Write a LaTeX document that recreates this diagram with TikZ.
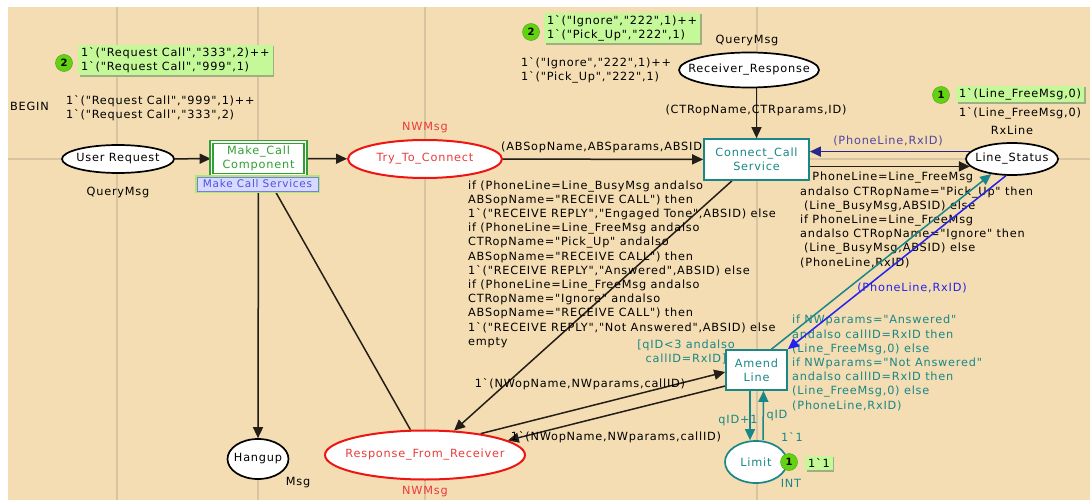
\documentclass[tikz,border=0pt]{standalone}
\usepackage{fontspec}
\setmonofont{DejaVu Sans}[LetterSpace=7]
\usetikzlibrary{arrows.meta,shapes.geometric,shadows}
\pgfdeclarelayer{bglayer}
\pgfdeclarelayer{edgelayer}
\pgfsetlayers{bglayer,edgelayer,main}
\newcommand\zw[1]{\makebox[0pt]{#1}}
\definecolor{bgc}{RGB}{244,221,178}
\definecolor{gridc}{RGB}{216,196,160}
\definecolor{arcc}{RGB}{36,30,24}
\definecolor{cteal}{RGB}{25,135,135}
\definecolor{cred}{RGB}{238,20,20}
\definecolor{credt}{RGB}{232,60,60}
\definecolor{cgreen}{RGB}{50,160,50}
\definecolor{cnavy}{RGB}{40,40,140}
\definecolor{cnavyt}{RGB}{80,70,165}
\definecolor{cblue}{RGB}{35,35,235}
\definecolor{tokfill}{RGB}{196,248,152}
\definecolor{tokshadow}{RGB}{160,175,130}
\definecolor{tokc}{RGB}{100,210,20}
\definecolor{tokcd}{RGB}{80,170,20}
\definecolor{svcfill}{RGB}{214,218,255}
\definecolor{svcdraw}{RGB}{120,125,230}
\definecolor{svctext}{RGB}{80,80,225}
\definecolor{glowc}{RGB}{175,232,110}
\begin{document}
\begin{tikzpicture}[x=1pt,y=-1pt,
  every node/.style={font=\ttfamily\fontsize{11.3}{14.2}\selectfont, inner sep=0pt},
  place/.style={ellipse, draw=black, line width=1.7pt, fill=white},
  rplace/.style={place, draw=cred, text=credt, line width=2pt},
  tplace/.style={place, draw=cteal, text=cteal},
  trans/.style={rectangle, draw=cteal, line width=1.7pt, fill=white, text=cteal, align=center},
  lbl/.style={align=left},
  arc/.style={draw=arcc, line width=1.5pt, -{Triangle[length=11pt,width=10pt]}},
  tokcirc/.style={circle, fill=tokc, draw=tokcd, line width=0.5pt, minimum size=17pt, font=\ttfamily\bfseries\fontsize{10}{12}\selectfont},
  tokbox/.style={fill=tokfill, inner xsep=3pt, inner ysep=2.5pt, align=left,
     drop shadow={shadow xshift=1.5pt, shadow yshift=-1.5pt, fill=tokshadow, opacity=1}}
]
\useasboundingbox (0,0) rectangle (1090,500);
\begin{pgfonlayer}{bglayer}
  \fill[white] (0,0) rectangle (1090,500);
  \fill[bgc] (8,7) rectangle (1090,500);
  \foreach \gx in {117,258,425,757} \draw[gridc, line width=2pt] (\gx,7) -- (\gx,500);
  \draw[gridc, line width=2pt] (8,159) -- (1090,159);
\end{pgfonlayer}

% places
\node[place, minimum width=112pt, minimum height=28pt] (user) at (118,159) {\zw{User Request}};
\node (usertype) at (118,192) {QueryMsg};
\node[anchor=west] (begin) at (10,106) {BEGIN};
\node[lbl, anchor=west] (userinit) at (66,108) {1`("Request Call","999",1)++\\1`("Request Call","333",2)};
\node[tokcirc] (tok1c) at (64,63) {2};
\node[tokbox, anchor=west] (tok1b) at (78,60) {1`("Request Call","333",2)++\\1`("Request Call","999",1)};

\node[rplace, minimum width=154pt, minimum height=38pt] (try) at (425,159) {\zw{Try\_To\_Connect}};
\node[text=credt] (trytype) at (425,128) {NWMsg};

\node[place, minimum width=140pt, minimum height=35pt] (recv) at (749,70) {\zw{Receiver\_Response}};
\node (recvtype) at (747,40) {QueryMsg};
\node[lbl, anchor=west] (recvinit) at (521,70) {1`("Ignore","222",1)++\\1`("Pick\_Up","222",1)};
\node[tokcirc] (tok2c) at (531,32) {2};
\node[tokbox, anchor=west] (tok2b) at (544,28) {1`("Ignore","222",1)++\\1`("Pick\_Up","222",1)};

\node[place, minimum width=92pt, minimum height=32pt] (line) at (1012,159) {\zw{Line\_Status}};
\node (linetype) at (1012,130) {RxLine};
\node (lineinit) at (1020,113) {1`(Line\_FreeMsg,0)};
\node[tokcirc] (tok3c) at (941,95) {1};
\node[tokbox, anchor=west] (tok3b) at (956,94) {1`(Line\_FreeMsg,0)};

\node[place, minimum width=61pt, minimum height=40pt] (hang) at (258,459) {\zw{Hangup}};
\node (hangtype) at (298,483) {Msg};

\node[rplace, minimum width=200pt, minimum height=49pt] (resp) at (425,455) {\zw{Response\_From\_Receiver}};
\node[text=credt] (resptype) at (425,492) {NWMsg};

\node[tplace, minimum width=62pt, minimum height=42pt] (limit) at (756,462) {\zw{Limit}};
\node[text=cteal] (limittype) at (791,483) {INT};
\node[text=cteal] (limitinit) at (792,437) {1`1};
\node[tokcirc] (tok4c) at (789,462) {1};
\node[tokbox, anchor=west] (tok4b) at (805,463) {1`1};

% transitions
\node[rectangle, draw=cgreen, line width=1.6pt, double=white, double distance=1.4pt, fill=white,
  text=cgreen, align=center, minimum width=94pt, minimum height=33pt] (make) at (258.5,158.5) {Make\_Call\\Component};
\node[trans, minimum width=105pt, minimum height=41pt] (conn) at (756.5,159.5) {Connect\_Call\\Service};
\node[trans, minimum width=61pt, minimum height=40pt] (amend) at (756.5,370) {Amend\\Line};
\node[text=cteal, align=center] (guard) at (686,352) {[qID<3 andalso\\callID=RxID]};

% arcs and inscriptions
\begin{pgfonlayer}{edgelayer}
  \draw[arc] (user) -- (make);
  \draw[arc] (make) -- (try);
  \draw[arc] (try) -- (conn);
  \node[anchor=west] (l1) at (501,147) {(ABSopName,ABSparams,ABSID)};
  \draw[arc] (recv.south -| conn.north) -- (conn.north);
  \node (l2) at (756,110) {(CTRopName,CTRparams,ID)};
  \draw[arc, draw=cnavy, fill=cnavy] (line.170) -- (line.170 -| conn.east);
  \node[text=cnavyt] (l3) at (888,141) {(PhoneLine,RxID)};
  \draw[arc] (line.190 -| conn.east) -- (line.190);
  \node[lbl, anchor=west] (l4) at (800,220) {if PhoneLine=Line\_FreeMsg\\andalso CTRopName="Pick\_Up" then\\\hspace*{4pt}(Line\_BusyMsg,ABSID) else\\if PhoneLine=Line\_FreeMsg\\andalso CTRopName="Ignore" then\\\hspace*{4pt}(Line\_BusyMsg,ABSID) else\\(PhoneLine,RxID)};
  \draw[arc] (conn.221) -- (resp.40);
  \node[lbl, anchor=west] (l5) at (468,264) {if (PhoneLine=Line\_BusyMsg andalso\\ABSopName="RECEIVE CALL") then\\1`("RECEIVE REPLY","Engaged Tone",ABSID) else\\if (PhoneLine=Line\_FreeMsg andalso\\CTRopName="Pick\_Up" andalso\\ABSopName="RECEIVE CALL") then\\1`("RECEIVE REPLY","Answered",ABSID) else\\if (PhoneLine=Line\_FreeMsg andalso\\CTRopName="Ignore" andalso\\ABSopName="RECEIVE CALL") then\\1`("RECEIVE REPLY","Not Answered",ABSID) else\\empty};
  \draw[arc] (make.south) -- (hang.north);
  \draw[arc] (resp.120) -- ([xshift=8pt]make.south);
  \draw[arc] (resp.21) -- ([yshift=-2pt]amend.west);
  \node (l6) at (580,384) {1`(NWopName,NWparams,callID)};
  \draw[arc] ([yshift=-16pt]amend.west) -- (resp.10);
  \node (l7) at (616,437) {1`(NWopName,NWparams,callID)};
  \draw[arc, draw=cteal, fill=cteal] ([xshift=15pt]amend.north) -- (line.216);
  \node[lbl, anchor=west, text=cteal] (l8) at (792,363) {if NWparams="Answered"\\andalso callID=RxID then\\(Line\_FreeMsg,0) else\\if NWparams="Not Answered"\\andalso callID=RxID then\\(Line\_FreeMsg,0) else\\(PhoneLine,RxID)};
  \draw[arc, draw=cblue, fill=cblue] (line.250) -- (amend.north east);
  \node[text=cblue] (l9) at (912,288) {(PhoneLine,RxID)};
  \draw[arc, draw=cteal, fill=cteal] ([xshift=-6.5pt]amend.south) -- ([xshift=-6pt]limit.north);
  \node[text=cteal] (l10) at (738,421) {qID+1};
  \draw[arc, draw=cteal, fill=cteal] ([xshift=7pt]limit.north) -- ([xshift=7pt]amend.south);
  \node[text=cteal] (l11) at (777,416) {qID};
\end{pgfonlayer}

% substitution tag
\node[fill=svcfill, draw=svcdraw, line width=0.8pt, text=svctext, minimum width=121pt, minimum height=14pt,
  font=\ttfamily\fontsize{10.5}{12}\selectfont, preaction={draw=glowc, line width=4pt}] (svc) at (257.5,184) {Make Call Services};
\end{tikzpicture}
\end{document}
